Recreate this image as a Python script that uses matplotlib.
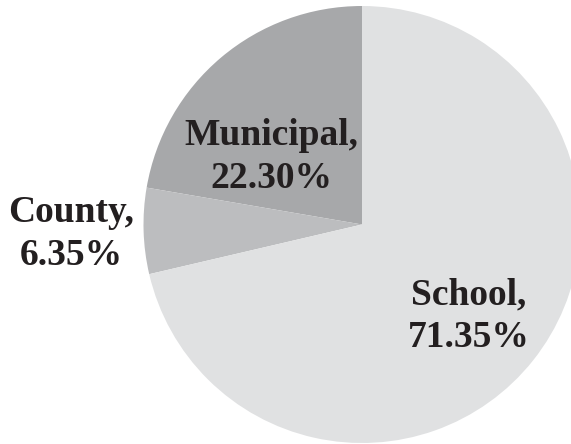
import matplotlib.pyplot as plt

# Share of total by unit of government
categories = ['Municipal', 'County', 'School']
shares = [22.30, 6.35, 71.35]
colors = ['#a7a8aa', '#bcbdbf', '#e0e1e2']

# label anchor points (axes data units, pie radius = 1)
label_x = [-0.417, -1.33, 0.49]
label_y = [0.31, -0.045, -0.42]

plt.rcParams['font.family'] = ['Liberation Serif', 'DejaVu Serif']

fig = plt.figure(figsize=(5.71, 4.44), dpi=100)
ax = fig.add_axes([0, 0, 1, 1])

ax.pie(shares, colors=colors, startangle=90, counterclock=True,
       radius=1.0, wedgeprops=dict(linewidth=0))

for name, val, x, y in zip(categories, shares, label_x, label_y):
    ax.text(x, y, f'{name},\n{val:.2f}%', ha='center', va='center',
            multialignment='center', fontsize=27, fontweight='bold',
            color='#231f20', linespacing=1.3)

scale = 218.5
ax.set_xlim(-362 / scale, (571 - 362) / scale)
ax.set_ylim(-(444 - 224.5) / scale, 224.5 / scale)
ax.set_aspect('equal')
ax.axis('off')

fig.savefig('out.png', dpi=100)
